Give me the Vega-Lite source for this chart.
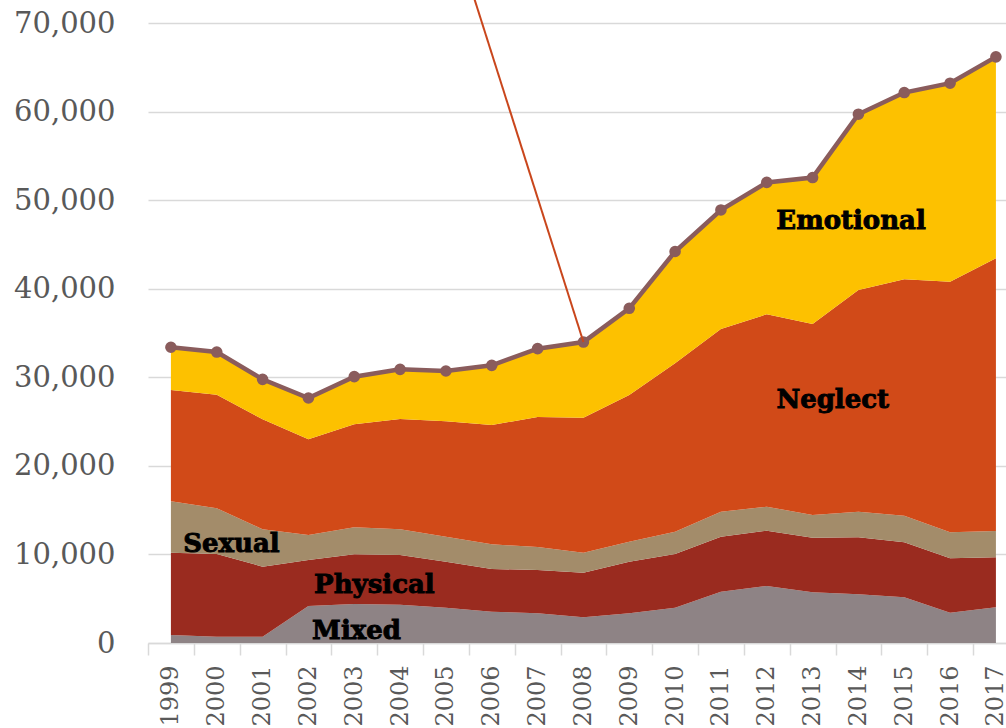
{
  "$schema": "https://vega.github.io/schema/vega-lite/v6.json",
  "width": 858,
  "height": 620,
  "autosize": {"type": "none"},
  "padding": {"left": 148, "top": 23, "right": 0, "bottom": 85},
  "background": "white",
  "config": {"view": {"stroke": null}},
  "datasets": {
    "abuse": [
      {"year": 1999, "type": "Mixed", "value": 900}, {"year": 1999, "type": "Physical", "value": 9300}, {"year": 1999, "type": "Sexual", "value": 5800}, {"year": 1999, "type": "Neglect", "value": 12560}, {"year": 1999, "type": "Emotional", "value": 4830},
      {"year": 2000, "type": "Mixed", "value": 710}, {"year": 2000, "type": "Physical", "value": 9340}, {"year": 2000, "type": "Sexual", "value": 5150}, {"year": 2000, "type": "Neglect", "value": 12830}, {"year": 2000, "type": "Emotional", "value": 4820},
      {"year": 2001, "type": "Mixed", "value": 710}, {"year": 2001, "type": "Physical", "value": 7910}, {"year": 2001, "type": "Sexual", "value": 4230}, {"year": 2001, "type": "Neglect", "value": 12400}, {"year": 2001, "type": "Emotional", "value": 4520},
      {"year": 2002, "type": "Mixed", "value": 4180}, {"year": 2002, "type": "Physical", "value": 5190}, {"year": 2002, "type": "Sexual", "value": 2820}, {"year": 2002, "type": "Neglect", "value": 10810}, {"year": 2002, "type": "Emotional", "value": 4660},
      {"year": 2003, "type": "Mixed", "value": 4400}, {"year": 2003, "type": "Physical", "value": 5610}, {"year": 2003, "type": "Sexual", "value": 3050}, {"year": 2003, "type": "Neglect", "value": 11630}, {"year": 2003, "type": "Emotional", "value": 5380},
      {"year": 2004, "type": "Mixed", "value": 4320}, {"year": 2004, "type": "Physical", "value": 5620}, {"year": 2004, "type": "Sexual", "value": 2900}, {"year": 2004, "type": "Neglect", "value": 12450}, {"year": 2004, "type": "Emotional", "value": 5610},
      {"year": 2005, "type": "Mixed", "value": 3990}, {"year": 2005, "type": "Physical", "value": 5190}, {"year": 2005, "type": "Sexual", "value": 2830}, {"year": 2005, "type": "Neglect", "value": 13020}, {"year": 2005, "type": "Emotional", "value": 5680},
      {"year": 2006, "type": "Mixed", "value": 3530}, {"year": 2006, "type": "Physical", "value": 4830}, {"year": 2006, "type": "Sexual", "value": 2780}, {"year": 2006, "type": "Neglect", "value": 13470}, {"year": 2006, "type": "Emotional", "value": 6740},
      {"year": 2007, "type": "Mixed", "value": 3350}, {"year": 2007, "type": "Physical", "value": 4890}, {"year": 2007, "type": "Sexual", "value": 2600}, {"year": 2007, "type": "Neglect", "value": 14680}, {"year": 2007, "type": "Emotional", "value": 7710},
      {"year": 2008, "type": "Mixed", "value": 2900}, {"year": 2008, "type": "Physical", "value": 5040}, {"year": 2008, "type": "Sexual", "value": 2260}, {"year": 2008, "type": "Neglect", "value": 15240}, {"year": 2008, "type": "Emotional", "value": 8540},
      {"year": 2009, "type": "Mixed", "value": 3350}, {"year": 2009, "type": "Physical", "value": 5830}, {"year": 2009, "type": "Sexual", "value": 2260}, {"year": 2009, "type": "Neglect", "value": 16560}, {"year": 2009, "type": "Emotional", "value": 9790},
      {"year": 2010, "type": "Mixed", "value": 3990}, {"year": 2010, "type": "Physical", "value": 6060}, {"year": 2010, "type": "Sexual", "value": 2520}, {"year": 2010, "type": "Neglect", "value": 19010}, {"year": 2010, "type": "Emotional", "value": 12620},
      {"year": 2011, "type": "Mixed", "value": 5790}, {"year": 2011, "type": "Physical", "value": 6210}, {"year": 2011, "type": "Sexual", "value": 2820}, {"year": 2011, "type": "Neglect", "value": 20630}, {"year": 2011, "type": "Emotional", "value": 13440},
      {"year": 2012, "type": "Mixed", "value": 6440}, {"year": 2012, "type": "Physical", "value": 6240}, {"year": 2012, "type": "Sexual", "value": 2710}, {"year": 2012, "type": "Neglect", "value": 21720}, {"year": 2012, "type": "Emotional", "value": 14890},
      {"year": 2013, "type": "Mixed", "value": 5720}, {"year": 2013, "type": "Physical", "value": 6170}, {"year": 2013, "type": "Sexual", "value": 2560}, {"year": 2013, "type": "Neglect", "value": 21570}, {"year": 2013, "type": "Emotional", "value": 16530},
      {"year": 2014, "type": "Mixed", "value": 5500}, {"year": 2014, "type": "Physical", "value": 6430}, {"year": 2014, "type": "Sexual", "value": 2890}, {"year": 2014, "type": "Neglect", "value": 25030}, {"year": 2014, "type": "Emotional", "value": 19850},
      {"year": 2015, "type": "Mixed", "value": 5160}, {"year": 2015, "type": "Physical", "value": 6210}, {"year": 2015, "type": "Sexual", "value": 3000}, {"year": 2015, "type": "Neglect", "value": 26690}, {"year": 2015, "type": "Emotional", "value": 21090},
      {"year": 2016, "type": "Mixed", "value": 3420}, {"year": 2016, "type": "Physical", "value": 6140}, {"year": 2016, "type": "Sexual", "value": 2940}, {"year": 2016, "type": "Neglect", "value": 28300}, {"year": 2016, "type": "Emotional", "value": 22400},
      {"year": 2017, "type": "Mixed", "value": 4030}, {"year": 2017, "type": "Physical", "value": 5650}, {"year": 2017, "type": "Sexual", "value": 2960}, {"year": 2017, "type": "Neglect", "value": 30790}, {"year": 2017, "type": "Emotional", "value": 22750}
    ],
    "labels": [
      {"label": "Emotional", "year": 2013.84, "value": 46740},
      {"label": "Neglect", "year": 2013.44, "value": 26500},
      {"label": "Sexual", "year": 2000.32, "value": 10310},
      {"label": "Physical", "year": 2003.44, "value": 5680},
      {"label": "Mixed", "year": 2003.05, "value": 420}
    ],
    "pointer": [
      {"year": 2008, "value": 33980},
      {"year": 2005.49, "value": 74860}
    ]
  },
  "layer": [
    {
      "data": {"name": "abuse"},
      "transform": [
        {"calculate": "indexof(['Mixed','Physical','Sexual','Neglect','Emotional'], datum.type)", "as": "stackOrder"}
      ],
      "mark": {"type": "area", "interpolate": "linear"},
      "encoding": {
        "x": {
          "field": "year", "type": "quantitative",
          "scale": {"domain": [1998.5, 2017.22], "nice": false, "zero": false},
          "axis": {
            "values": [1999, 2000, 2001, 2002, 2003, 2004, 2005, 2006, 2007, 2008, 2009, 2010, 2011, 2012, 2013, 2014, 2015, 2016, 2017],
            "format": "d",
            "title": null,
            "grid": false,
            "tickOffset": -22.9,
            "labelOffset": 22.9,
            "labelAngle": -90,
            "labelAlign": "right",
            "labelBaseline": "middle",
            "labelFont": "DejaVu Serif",
            "labelFontSize": 24,
            "labelColor": "#595959",
            "labelPadding": 10,
            "labelFlush": false,
            "labelOverlap": false,
            "tickSize": 12,
            "tickColor": "#d9d9d9",
            "tickWidth": 1.5,
            "domainColor": "#d9d9d9",
            "domainWidth": 1.5
          }
        },
        "y": {
          "field": "value", "type": "quantitative", "stack": "zero",
          "scale": {"domain": [0, 70000], "nice": false},
          "axis": {
            "values": [0, 10000, 20000, 30000, 40000, 50000, 60000, 70000],
            "format": ",d",
            "title": null,
            "ticks": false,
            "domain": false,
            "grid": true,
            "gridColor": "#d9d9d9",
            "gridWidth": 1.5,
            "labelFont": "DejaVu Serif",
            "labelFontSize": 29,
            "labelColor": "#595959",
            "labelPadding": 33
          }
        },
        "color": {
          "field": "type", "type": "nominal",
          "scale": {
            "domain": ["Mixed", "Physical", "Sexual", "Neglect", "Emotional"],
            "range": ["#8E8385", "#9A2B1F", "#A38C6A", "#D14A18", "#FDC100"]
          },
          "legend": null
        },
        "order": {"field": "stackOrder", "type": "quantitative", "sort": "ascending"}
      }
    },
    {
      "data": {"name": "abuse"},
      "transform": [
        {"aggregate": [{"op": "sum", "field": "value", "as": "total"}], "groupby": ["year"]}
      ],
      "mark": {
        "type": "line",
        "color": "#8A5C5C",
        "strokeWidth": 4.5,
        "point": {"filled": true, "size": 135, "color": "#8A5C5C", "opacity": 1}
      },
      "encoding": {
        "x": {"field": "year", "type": "quantitative"},
        "y": {"field": "total", "type": "quantitative"}
      }
    },
    {
      "data": {"name": "pointer"},
      "mark": {"type": "line", "color": "#C9461C", "strokeWidth": 2, "clip": false},
      "encoding": {
        "x": {"field": "year", "type": "quantitative"},
        "y": {"field": "value", "type": "quantitative"}
      }
    },
    {
      "data": {"name": "labels"},
      "mark": {
        "type": "text",
        "font": "DejaVu Serif",
        "fontWeight": "bold",
        "fontSize": 26,
        "color": "#000000",
        "stroke": "#000000",
        "strokeWidth": 0.9,
        "align": "center",
        "baseline": "alphabetic"
      },
      "encoding": {
        "x": {"field": "year", "type": "quantitative"},
        "y": {"field": "value", "type": "quantitative"},
        "text": {"field": "label", "type": "nominal"}
      }
    }
  ]
}
